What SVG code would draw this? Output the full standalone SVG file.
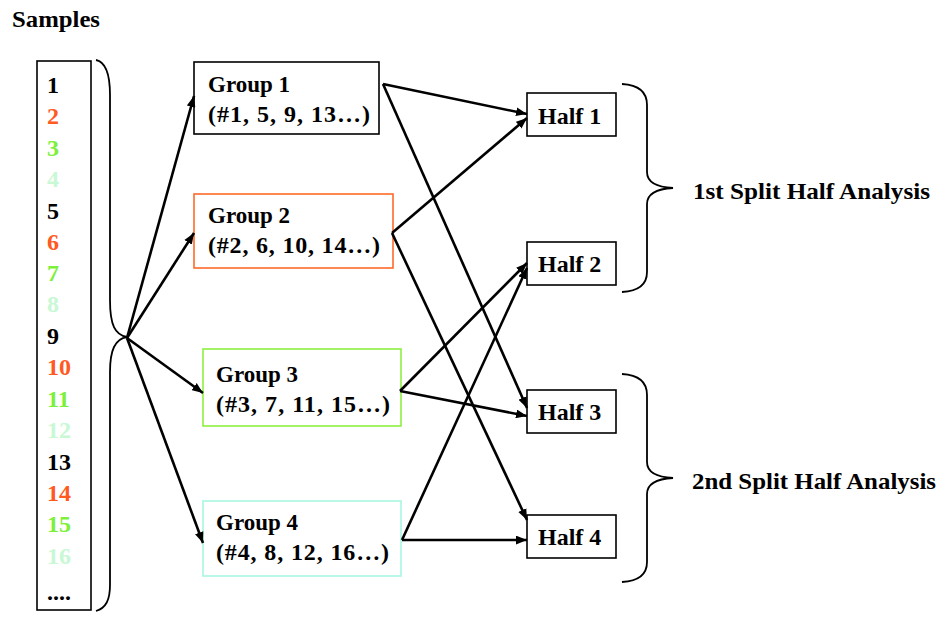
<svg xmlns="http://www.w3.org/2000/svg" width="946" height="618" viewBox="0 0 946 618">
<defs>
<marker id="ah" viewBox="0 0 10 8" refX="10" refY="4" markerWidth="11" markerHeight="9" markerUnits="userSpaceOnUse" orient="auto">
<path d="M0,0 L10,4 L0,8 z" fill="#000"/>
</marker>
<style>
text{font-family:"Liberation Serif","Times New Roman",serif;font-weight:bold;font-size:24px;fill:#000}
.box{fill:#fff;stroke:#000;stroke-width:1.6}
.conn{stroke:#000;stroke-width:2.6;fill:none;marker-end:url(#ah)}
.brace{stroke:#000;stroke-width:1.8;fill:none}
.c1{fill:#000}.c2{fill:#ff5a1f}.c3{fill:#7cf03a}.c4{fill:#c8f8d4}
</style>
</defs>
<rect width="946" height="618" fill="#fff"/>
<text x="12" y="27" textLength="88" lengthAdjust="spacingAndGlyphs">Samples</text>
<g id="samples">
<rect x="37" y="61" width="54" height="549" class="box"/>
<text x="47" y="93" class="c1">1</text>
<text x="47" y="124" class="c2">2</text>
<text x="47" y="156" class="c3">3</text>
<text x="47" y="187" class="c4">4</text>
<text x="47" y="219" class="c1">5</text>
<text x="47" y="250" class="c2">6</text>
<text x="47" y="281" class="c3">7</text>
<text x="47" y="312" class="c4">8</text>
<text x="47" y="344" class="c1">9</text>
<text x="47" y="375" class="c2">10</text>
<text x="47" y="407" class="c3">11</text>
<text x="47" y="438" class="c4">12</text>
<text x="47" y="470" class="c1">13</text>
<text x="47" y="501" class="c2">14</text>
<text x="47" y="532" class="c3">15</text>
<text x="47" y="564" class="c4">16</text>
<text x="47" y="600" class="c1">....</text>
</g>
<g id="brace-left">
<path class="brace" d="M96,60 C106,62 110,75 110,95 L110,300 C110,325 115,335 127,337 C115,339 110,350 110,372 L110,585 C110,600 106,608 96,611"/>
</g>
<g id="group1">
<rect x="194" y="62" width="185" height="72" class="box"/>
<text x="208" y="92" textLength="82" lengthAdjust="spacingAndGlyphs">Group 1</text>
<text x="208" y="122" textLength="162" lengthAdjust="spacing">(#1, 5, 9, 13…)</text>
</g>
<g id="group2">
<rect x="194" y="194" width="199" height="74" class="box" style="stroke:#ff6a2a"/>
<text x="208" y="223" textLength="82" lengthAdjust="spacingAndGlyphs">Group 2</text>
<text x="208" y="253" textLength="172" lengthAdjust="spacing">(#2, 6, 10, 14…)</text>
</g>
<g id="group3">
<rect x="203" y="349" width="198" height="77" class="box" style="stroke:#8ef040"/>
<text x="216" y="382" textLength="82" lengthAdjust="spacingAndGlyphs">Group 3</text>
<text x="216" y="412" textLength="174" lengthAdjust="spacing">(#3, 7, 11, 15…)</text>
</g>
<g id="group4">
<rect x="203" y="501" width="198" height="75" class="box" style="stroke:#a8f5e0"/>
<text x="216" y="530" textLength="82" lengthAdjust="spacingAndGlyphs">Group 4</text>
<text x="216" y="560" textLength="173" lengthAdjust="spacing">(#4, 8, 12, 16…)</text>
</g>
<g id="half1">
<rect x="527" y="93" width="89" height="43" class="box"/>
<text x="538" y="124">Half 1</text>
</g>
<g id="half2">
<rect x="527" y="242" width="89" height="43" class="box"/>
<text x="538" y="272">Half 2</text>
</g>
<g id="half3">
<rect x="527" y="390" width="89" height="43" class="box"/>
<text x="538" y="420">Half 3</text>
</g>
<g id="half4">
<rect x="527" y="515" width="89" height="43" class="box"/>
<text x="538" y="545">Half 4</text>
</g>
<g id="brace-first">
<path class="brace" d="M622,84 C640,85 647,93 647,105 L647,172 C647,182 655,187 673,188 C655,189 647,194 647,204 L647,272 C647,284 640,291 622,292"/>
<text x="693" y="199" textLength="237" lengthAdjust="spacingAndGlyphs">1st Split Half Analysis</text>
</g>
<g id="brace-second">
<path class="brace" d="M622,374 C640,375 647,383 647,395 L647,462 C647,472 655,477 673,478 C655,479 647,484 647,494 L647,562 C647,574 640,581 622,582"/>
<text x="692" y="489" textLength="244" lengthAdjust="spacingAndGlyphs">2nd Split Half Analysis</text>
</g>
<g id="connectors">
<line class="conn" x1="127" y1="338" x2="194" y2="96"/>
<line class="conn" x1="127" y1="338" x2="194" y2="233"/>
<line class="conn" x1="127" y1="338" x2="203" y2="393"/>
<line class="conn" x1="127" y1="338" x2="203" y2="543"/>
<line class="conn" x1="383" y1="84" x2="527" y2="114"/>
<line class="conn" x1="383" y1="84" x2="527" y2="408"/>
<line class="conn" x1="392" y1="233" x2="527" y2="118"/>
<line class="conn" x1="392" y1="233" x2="527" y2="520"/>
<line class="conn" x1="400" y1="391" x2="527" y2="263"/>
<line class="conn" x1="400" y1="391" x2="527" y2="416"/>
<line class="conn" x1="402" y1="540" x2="527" y2="268"/>
<line class="conn" x1="402" y1="540" x2="527" y2="540"/>
</g>
</svg>
